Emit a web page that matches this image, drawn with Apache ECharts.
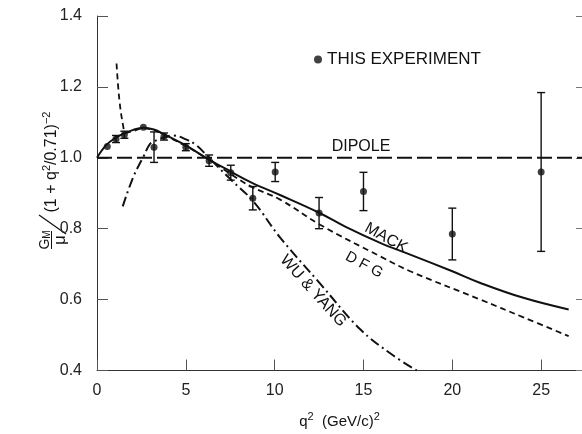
<!DOCTYPE html>
<html><head><meta charset="utf-8">
<script src="https://cdn.jsdelivr.net/npm/echarts@6/dist/echarts.min.js"></script>
<style>html,body{margin:0;padding:0;background:#fff}#c{width:582px;height:434px}</style>
</head><body><div id="c"></div>
<script>
// measured points (THIS EXPERIMENT)
const q2Data  = [0.58, 1.07, 1.54, 2.61, 3.21, 3.77, 5.0, 6.31, 7.53, 8.77, 10.03, 12.5, 15.0, 20.0, 25.0];
const gmData  = [1.032, 1.053, 1.065, 1.086, 1.03, 1.06, 1.03, 0.992, 0.958, 0.886, 0.96, 0.844, 0.905, 0.785, 0.96];
const errData = [0, 0.01, 0.01, 0, 0.043, 0.01, 0.01, 0.016, 0.021, 0.033, 0.027, 0.044, 0.054, 0.073, 0.224];

// theory curves
const dipoleQ = [0, 27.3];
const dipoleV = [1.0, 1.0];
const mackQ = [0, 0.5, 1, 1.5, 2, 2.6, 3.2, 3.8, 5, 6.3, 7.5, 8.7, 10.3, 12.5, 14, 15.94, 17.63, 20, 21.58, 24, 26.55];
const mackV = [1.0, 1.035, 1.055, 1.068, 1.078, 1.085, 1.08, 1.066, 1.035, 0.995, 0.962, 0.93, 0.895, 0.845, 0.805, 0.76, 0.727, 0.68, 0.647, 0.605, 0.572];
const dfgQ = [1.1, 1.26, 1.48, 1.6, 2, 2.6, 3.2, 3.8, 5, 6.3, 7.5, 8.7, 10.31, 12.56, 15.94, 17.63, 21.58, 24, 26.55];
const dfgV = [1.266, 1.163, 1.088, 1.07, 1.075, 1.083, 1.078, 1.064, 1.033, 0.995, 0.955, 0.918, 0.882, 0.811, 0.722, 0.68, 0.6, 0.55, 0.497];
const wyQ = [1.45, 2.05, 2.61, 2.95, 3.17, 4.3, 5.0, 5.6, 6.3, 7.5, 8.8, 10.31, 12.56, 14.8, 16.6, 18.0];
const wyV = [0.863, 0.947, 1.003, 1.037, 1.046, 1.063, 1.052, 1.035, 1.0, 0.94, 0.877, 0.775, 0.645, 0.517, 0.445, 0.4];

// axis ticks
const xTicks = [0, 5, 10, 15, 20, 25];
const yMin = 0.4, yMax = 1.4, yStep = 0.2;

const FONT = 'Liberation Sans';
const INK = '#111';
const zip = (a, b) => a.map((v, i) => [v, b[i]]);

const chart = echarts.init(document.getElementById('c'));
chart.setOption({
  animation: false,
  backgroundColor: '#fff',
  textStyle: { fontFamily: FONT },
  grid: { left: 97, right: 0, top: 16, bottom: 63 },
  legend: {
    data: ['THIS EXPERIMENT'], left: 314, top: 51, padding: 0, icon: 'circle',
    itemWidth: 8, itemHeight: 8, itemGap: 5,
    textStyle: { fontSize: 17, color: INK, fontFamily: FONT }
  },
  xAxis: {
    type: 'value', min: 0, max: 27.3,
    axisLine: { show: true, lineStyle: { color: '#333', width: 1 } },
    axisTick: { inside: true, length: 11, lineStyle: { color: '#555' }, customValues: xTicks },
    axisLabel: { fontSize: 16, color: '#222', margin: 12, customValues: xTicks },
    splitLine: { show: false },
    name: '{n|q}{s|2}{n|  (GeV/c)}{s|2}', nameLocation: 'middle', nameGap: 41,
    nameTextStyle: { rich: { n: { fontSize: 15, color: INK, fontFamily: FONT, lineHeight: 20 }, s: { fontSize: 11, color: INK, fontFamily: FONT, verticalAlign: 'top' } } }
  },
  yAxis: [{
    type: 'value', min: yMin, max: yMax, interval: yStep,
    axisLine: { show: true, lineStyle: { color: '#333', width: 1 } },
    axisTick: { inside: true, length: 11, lineStyle: { color: '#555' } },
    axisLabel: { fontSize: 16, color: '#222', margin: 15, formatter: v => v.toFixed(1) },
    splitLine: { show: false }
  }, {
    type: 'value', min: yMin, max: yMax, interval: yStep, position: 'right',
    axisLine: { show: false },
    axisTick: { show: true, inside: true, length: 6, lineStyle: { color: '#777' } },
    axisLabel: { show: false }, splitLine: { show: false }
  }],
  series: [
    { name: 'DIPOLE', type: 'line', data: zip(dipoleQ, dipoleV), showSymbol: false, silent: true,
      lineStyle: { color: INK, width: 2, type: [15, 5] } },
    { name: 'MACK', type: 'line', data: zip(mackQ, mackV), showSymbol: false, smooth: 0.4, silent: true,
      lineStyle: { color: INK, width: 2 } },
    { name: 'DFG', type: 'line', data: zip(dfgQ, dfgV), showSymbol: false, smooth: 0.4, silent: true,
      lineStyle: { color: INK, width: 1.8, type: [6, 4] } },
    { name: 'WU & YANG', type: 'line', data: zip(wyQ, wyV), showSymbol: false, smooth: 0.4, silent: true,
      lineStyle: { color: INK, width: 2, type: [10, 4, 2, 4] } },
    { name: 'errors', type: 'custom', silent: true,
      data: q2Data.map((q, i) => [q, gmData[i], errData[i]]),
      renderItem: (params, api) => {
        const x = api.value(0), y = api.value(1), e = api.value(2);
        if (!e) return null;
        const t = api.coord([x, y + e]), b = api.coord([x, y - e]);
        const hw = 4, st = { stroke: INK, lineWidth: 1.4 };
        return { type: 'group', children: [
          { type: 'line', shape: { x1: t[0], y1: t[1], x2: b[0], y2: b[1] }, style: st },
          { type: 'line', shape: { x1: t[0] - hw, y1: t[1], x2: t[0] + hw, y2: t[1] }, style: st },
          { type: 'line', shape: { x1: b[0] - hw, y1: b[1], x2: b[0] + hw, y2: b[1] }, style: st }
        ] };
      } },
    { name: 'THIS EXPERIMENT', type: 'scatter', data: zip(q2Data, gmData), symbol: 'circle', symbolSize: 7,
      itemStyle: { color: INK }, z: 5 }
  ],
  graphic: [
    { type: 'text', x: 361, y: 147, style: { text: 'DIPOLE', font: '16px ' + FONT, fill: INK, align: 'center', verticalAlign: 'middle' } },
    { type: 'text', x: 386, y: 238, rotation: -29 * Math.PI / 180, style: { text: 'MACK', font: '16px ' + FONT, fill: INK, align: 'center', verticalAlign: 'middle' } },
    { type: 'text', x: 364, y: 265, rotation: -28 * Math.PI / 180, style: { text: 'D F G', font: '15px ' + FONT, fill: INK, align: 'center', verticalAlign: 'middle' } },
    { type: 'text', x: 313, y: 291, rotation: -48 * Math.PI / 180, style: { text: 'WU & YANG', font: '16px ' + FONT, fill: INK, align: 'center', verticalAlign: 'middle' } },
    { type: 'group', x: 52, y: 180, rotation: Math.PI / 2, children: [
      { type: 'text', x: -60, y: -7, style: { text: '{g|G}{m|M}', align: 'center', verticalAlign: 'middle',
          rich: { g: { fontSize: 14, fill: INK, fontFamily: FONT, lineHeight: 15 }, m: { fontSize: 10, fill: INK, fontFamily: FONT, verticalAlign: 'bottom' } } } },
      { type: 'line', shape: { x1: -69, y1: -0.5, x2: -51, y2: -0.5 }, style: { stroke: INK, lineWidth: 1 } },
      { type: 'text', x: -60, y: 8, style: { text: 'μ', font: '17px ' + FONT, fill: INK, align: 'center', verticalAlign: 'middle' } },
      { type: 'line', shape: { x1: -54, y1: 14, x2: -35, y2: -13 }, style: { stroke: INK, lineWidth: 1.2 } },
      { type: 'text', x: 18, y: 0, style: { text: '{n|(1 + q}{s|2}{n|/0.71)}{s|−2}', align: 'center', verticalAlign: 'middle',
          rich: { n: { fontSize: 16, fill: INK, fontFamily: FONT, lineHeight: 22 }, s: { fontSize: 11, fill: INK, fontFamily: FONT, verticalAlign: 'top' } } } }
    ] }
  ]
});
</script></body></html>
